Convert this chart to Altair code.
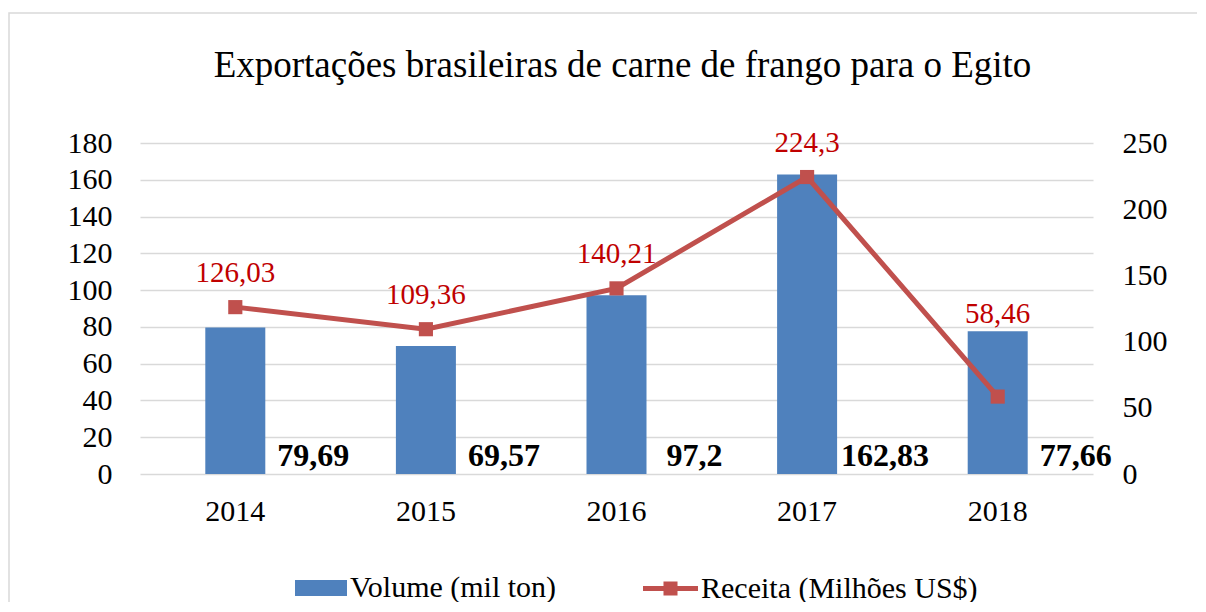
import altair as alt
import pandas as pd

# ---- data ----
years = ["2014", "2015", "2016", "2017", "2018"]
volume = [79.69, 69.57, 97.2, 162.83, 77.66]
receita = [126.03, 109.36, 140.21, 224.3, 58.46]
volume_labels = ["79,69", "69,57", "97,2", "162,83", "77,66"]
receita_labels = ["126,03", "109,36", "140,21", "224,3", "58,46"]
left_ticks = [0, 20, 40, 60, 80, 100, 120, 140, 160, 180]
right_ticks = [0, 50, 100, 150, 200, 250]

VOL_NAME = "Volume (mil ton)"
REC_NAME = "Receita (Milhões US$)"
TITLE = "Exportações brasileiras de carne de frango para o Egito"

df = pd.DataFrame({
    "ano": years,
    "volume": volume,
    "receita": receita,
    "volume_label": volume_labels,
    "receita_label": receita_labels,
})
df["serie_vol"] = VOL_NAME
df["serie_rec"] = REC_NAME
df["zero"] = 0

FONT = "Liberation Serif"
BLUE = "#4F81BD"
RED = "#C0504D"
LABEL_RED = "#C00000"

x_enc = alt.X(
    "ano:N", sort=years,
    scale=alt.Scale(paddingInner=0, paddingOuter=0),
    axis=alt.Axis(title=None, labelFontSize=30, labelPadding=22, domain=False,
                  ticks=False, labelAngle=0, grid=False),
)
y_left_scale = alt.Scale(domain=[0, 180])
y_right_scale = alt.Scale(domain=[0, 250])

frame = alt.Chart(pd.DataFrame({"a": [0]})).mark_rect(
    filled=False, stroke="#D9D9D9", strokeWidth=1.5
).encode(x=alt.value(-131), x2=alt.value(1300), y=alt.value(-130), y2=alt.value(700))

bars = alt.Chart(df).mark_bar(size=60).encode(
    x=x_enc,
    y=alt.Y("volume:Q", scale=y_left_scale,
            axis=alt.Axis(title=None, orient="left", values=left_ticks, grid=True,
                          gridColor="#D9D9D9", gridWidth=1.5, domain=False, ticks=False,
                          labelFontSize=30, labelPadding=28)),
    fill=alt.Fill("serie_vol:N",
                  scale=alt.Scale(domain=[VOL_NAME], range=[BLUE]),
                  legend=alt.Legend(title=None, orient="none", legendX=155, legendY=419,
                                    symbolType="M-1,-0.31H1V0.31H-1Z", symbolSize=2704,
                                    symbolStrokeWidth=0, labelFontSize=30, labelFont=FONT,
                                    labelColor="#000", labelOffset=3, labelLimit=500,
                                    padding=0)),
)

vol_text = alt.Chart(df).mark_text(
    align="center", baseline="alphabetic", dx=78, dy=-8, fontSize=32,
    fontWeight="bold", font=FONT, color="#000000"
).encode(
    x=x_enc,
    y=alt.Y("zero:Q", scale=y_left_scale, axis=None),
    text="volume_label:N",
)

line = alt.Chart(df).mark_line(color=RED, strokeWidth=5).encode(
    x=x_enc,
    y=alt.Y("receita:Q", scale=y_right_scale,
            axis=alt.Axis(title=None, orient="right", values=right_ticks, grid=False,
                          domain=False, ticks=False, labelFontSize=30, labelPadding=29)),
)

points = alt.Chart(df).mark_point(filled=True, shape="square", size=200, opacity=1).encode(
    x=x_enc,
    y=alt.Y("receita:Q", scale=y_right_scale, axis=None),
    color=alt.Color("serie_rec:N",
                    scale=alt.Scale(domain=[REC_NAME], range=[RED]),
                    legend=alt.Legend(title=None, orient="none", legendX=503, legendY=418,
                                      symbolType="M-1,-0.09H1V0.09H-1Z M-0.255,-0.255H0.255V0.255H-0.255Z",
                                      symbolSize=3025, symbolStrokeWidth=0,
                                      labelFontSize=30, labelFont=FONT, labelColor="#000",
                                      labelOffset=3, labelLimit=500, padding=0)),
)

# labels sit above the marker, or just above the bar when the bar would cover them
rec_text = alt.Chart(df).transform_calculate(
    pos="max(datum.receita, datum.volume * 250 / 180 - 13)"
).mark_text(
    align="center", baseline="alphabetic", dy=-25, fontSize=29, font=FONT, color=LABEL_RED
).encode(
    x=x_enc,
    y=alt.Y("pos:Q", scale=y_right_scale, axis=None),
    text="receita_label:N",
)

chart = alt.layer(frame, bars, vol_text, line, points, rec_text).resolve_scale(
    y="independent"
).properties(
    width=953, height=331,
    title=alt.TitleParams(text=TITLE, fontSize=37, font=FONT, fontWeight="normal",
                          color="#000000", offset=-73, dx=6, anchor="middle"),
    padding={"left": 132, "top": 135, "right": 104, "bottom": 128},
    autosize=alt.AutoSizeParams(type="none"),
).configure(font=FONT).configure_view(stroke=None).configure_axis(
    labelFont=FONT, labelColor="#000000"
)

chart.save("out.html", embed_options={"renderer": "svg", "actions": False})
